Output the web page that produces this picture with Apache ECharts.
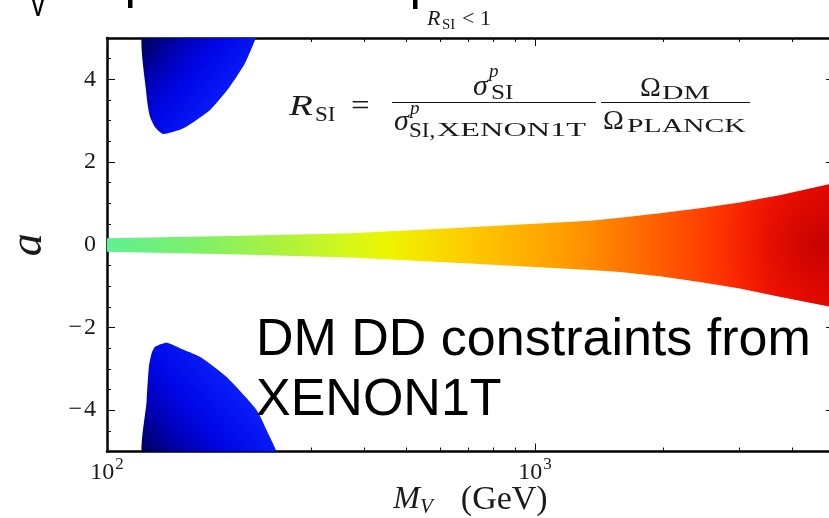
<!DOCTYPE html>
<html>
<head>
<meta charset="utf-8">
<script src="https://cdn.jsdelivr.net/npm/echarts@6/dist/echarts.min.js"></script>
<style>
  html, body { margin: 0; padding: 0; background: #fff; }
  #chart { width: 829px; height: 518px; }
</style>
</head>
<body>
<div id="chart"></div>
<script>
// Allowed band (R_SI < 1) around a = 0: mass in GeV, upper / lower edge in a
const bandMass  = [100, 194, 370, 686, 1345, 1580, 1959, 2430, 3013, 3733, 4808, 5000];
const bandUpper = [0.16, 0.21, 0.28, 0.42, 0.58, 0.65, 0.76, 0.88, 1.02, 1.20, 1.45, 1.50];
const bandLower = [-0.17, -0.23, -0.31, -0.45, -0.61, -0.66, -0.76, -0.90, -1.06, -1.26, -1.48, -1.53];

// Outline of the allowed lobe at large positive a
const upperLobeMass = [122.7, 123.8, 126.0, 129.4, 135.3, 148, 153.6, 174.1, 193.8, 210.1, 222.8, 229];
const upperLobeA    = [5.3, 3.58, 3.10, 2.85, 2.68, 2.78, 2.86, 3.26, 3.83, 4.39, 5.0, 5.3];

// Outline of the allowed lobe at large negative a
const lowerLobeMass = [122.7, 123.8, 125.3, 127.2, 129.4, 137.9, 148, 164.9, 190.4, 223.8, 238.2, 249.2, 256];
const lowerLobeA    = [-5.3, -3.76, -2.95, -2.62, -2.47, -2.37, -2.50, -2.71, -3.20, -4.0, -4.57, -5.0, -5.3];

// Axis ticks
const xMajorTicks = [100, 1000];
const xMinorTicks = [200, 300, 400, 500, 600, 700, 800, 900, 2000, 3000, 4000, 5000];
const yMajorTicks = [-4, -2, 0, 2, 4];
const yMinorTicks = [-4.5, -3.5, -3, -2.5, -1.5, -1, -0.5, 0.5, 1, 1.5, 2.5, 3, 3.5, 4.5];

const SERIF = '"Liberation Serif", "DejaVu Serif", serif';
const SANS = '"Liberation Sans", Arial, sans-serif';
const INK = '#1a1a1a';
const X_MIN = 100, X_MAX = 5000, Y_MIN = -5, Y_MAX = 5;

function xAxis(position, ticks, len, withLine, withLabels) {
  return {
    type: 'log', logBase: 10, min: X_MIN, max: X_MAX, position: position,
    axisLine: { show: withLine, onZero: false, lineStyle: { color: '#000', width: 2.5 } },
    axisTick: { show: true, inside: true, length: len, customValues: ticks,
                lineStyle: { color: '#111', width: 1 } },
    axisLabel: withLabels ? {
      show: true, customValues: ticks, margin: 5, color: INK,
      formatter: v => '{b|10}{s|' + Math.round(Math.log10(v)) + '}',
      rich: {
        b: { fontFamily: SERIF, fontSize: 24, color: INK, verticalAlign: 'bottom' },
        s: { fontFamily: SERIF, fontSize: 17, color: INK, verticalAlign: 'bottom', padding: [0, 0, 11, 1] }
      }
    } : { show: false },
    splitLine: { show: false }
  };
}

function yAxis(position, ticks, len, withLine, withLabels) {
  return {
    type: 'value', min: Y_MIN, max: Y_MAX, position: position,
    axisLine: { show: withLine, onZero: false, lineStyle: { color: '#000', width: 2.5 } },
    axisTick: { show: true, inside: true, length: len, customValues: ticks,
                lineStyle: { color: '#111', width: 1 } },
    axisLabel: withLabels ? {
      show: true, customValues: ticks, margin: 11, color: INK,
      fontFamily: SERIF, fontSize: 24,
      formatter: v => (v < 0 ? '\u2212\u200a' + (-v) : String(v))
    } : { show: false },
    splitLine: { show: false }
  };
}

// Closed outline of the band from its upper and lower edges
function bandRing() {
  const ring = bandMass.map((m, i) => [m, bandUpper[i]]);
  for (let i = bandMass.length - 1; i >= 0; i--) ring.push([bandMass[i], bandLower[i]]);
  return ring;
}
function lobeRing(ms, as) { return ms.map((m, i) => [m, as[i]]); }

function regionSeries(ring, smooth, fillFor) {
  return {
    type: 'custom', coordinateSystem: 'cartesian2d', xAxisIndex: 0, yAxisIndex: 0,
    clip: true, silent: true, data: [[1000, 0]],
    renderItem: (params, api) => ({
      type: 'polygon',
      shape: { points: ring.map(p => api.coord(p)), smooth: smooth },
      style: { fill: fillFor(api), stroke: null }
    })
  };
}

const bandStops = [
  [0.00, '#60f094'], [0.12, '#7cf06a'], [0.25, '#b0f23a'], [0.33, '#d4f81a'],
  [0.39, '#eef400'], [0.45, '#f8dc00'], [0.52, '#ffc200'], [0.62, '#ffa000'],
  [0.67, '#ff8a00'], [0.75, '#ff6200'], [0.83, '#ff3a00'], [0.91, '#f81800'],
  [1.00, '#e80800']
].map(([offset, color]) => ({ offset, color }));

function blueFill(api, from, to) {
  const p0 = api.coord(from), p1 = api.coord(to);
  return new echarts.graphic.LinearGradient(p0[0], p0[1], p1[0], p1[1], [
    { offset: 0, color: '#000068' }, { offset: 0.22, color: '#0000b0' },
    { offset: 0.5, color: '#0006e6' }, { offset: 1, color: '#0c24ff' }
  ], true);
}

// a piece of the formula: text, left x, middle y, font size, italic, horizontal stretch
function txt(s, x, y, size, italic, sx) {
  return { type: 'text', x: x, y: y, scaleX: sx || 1,
    style: { text: s, font: (italic ? 'italic ' : '') + size + 'px ' + SERIF,
             fill: INK, verticalAlign: 'middle', align: 'left' } };
}

const option = {
  animation: false,
  backgroundColor: '#fff',
  grid: { left: 107, top: 38, width: 727, height: 413.5, containLabel: false, outerBoundsMode: 'none' },
  xAxis: [
    Object.assign(xAxis('bottom', xMajorTicks, 8, true, true), {
      name: '{i|M}{s|V}{n|(GeV)}', nameLocation: 'middle', nameGap: 31, nameMoveOverlap: false,
      nameTextStyle: { rich: {
        i: { fontFamily: SERIF, fontStyle: 'italic', fontSize: 32, color: INK },
        s: { fontFamily: SERIF, fontStyle: 'italic', fontSize: 21, color: INK, padding: [14, 0, 0, 0] },
        n: { fontFamily: SERIF, fontSize: 34, color: INK, padding: [0, 0, 0, 28] }
      } }
    }),
    xAxis('bottom', xMinorTicks, 4, false, false),
    xAxis('top', xMajorTicks, 8, true, false),
    xAxis('top', xMinorTicks, 4, false, false)
  ],
  yAxis: [
    Object.assign(yAxis('left', yMajorTicks, 8, true, true), {
      name: 'a', nameLocation: 'middle', nameGap: 55, nameRotate: 90, nameMoveOverlap: false,
      nameTextStyle: { fontFamily: SERIF, fontStyle: 'italic', fontSize: 46, color: INK }
    }),
    yAxis('left', yMinorTicks, 4, false, false),
    yAxis('right', yMajorTicks, 8, true, false),
    yAxis('right', yMinorTicks, 4, false, false)
  ],
  series: [
    regionSeries(bandRing(), 0, api => {
      const p0 = api.coord([X_MIN, 0]), p1 = api.coord([X_MAX, 0]);
      return new echarts.graphic.LinearGradient(p0[0], 0, p1[0], 0, bandStops, true);
    }),
    // darker core towards heavy masses
    regionSeries(bandRing(), 0, api => {
      const c = api.coord([4600, 0]);
      return new echarts.graphic.RadialGradient(c[0], c[1], 105, [
        { offset: 0, color: 'rgba(185,0,0,0.75)' },
        { offset: 0.6, color: 'rgba(200,0,0,0.22)' },
        { offset: 1, color: 'rgba(220,0,0,0)' }
      ], true);
    }),
    regionSeries(lobeRing(upperLobeMass, upperLobeA), 0.2, api => blueFill(api, [126, 5], [200, 3.3])),
    regionSeries(lobeRing(lowerLobeMass, lowerLobeA), 0.2, api => blueFill(api, [126, -5], [205, -3.1]))
  ],
  graphic: [
    // lower edge of the slide heading above the plot
    { type: 'text', x: 38, y: 24, scaleX: 0.75, style: { text: 'V', font: '36px ' + SANS, fill: '#000', align: 'center', verticalAlign: 'bottom' } },
    { type: 'rect', shape: { x: 128, y: 0, width: 4.5, height: 8 }, style: { fill: '#000' } },
    { type: 'rect', shape: { x: 413, y: 0, width: 4.5, height: 9 }, style: { fill: '#000' } },

    // panel title: R_SI < 1
    txt('R', 427, 19, 22, true),
    txt('SI', 442, 25, 15, false),
    txt('< 1', 462, 19, 22, false),

    // R_SI definition
    txt('R', 289, 107, 30, true, 1.3),
    txt('SI', 315, 115, 21, false, 1.1),
    txt('=', 351, 107, 30, false, 1.1),
    { type: 'line', shape: { x1: 392, y1: 102.5, x2: 596, y2: 102.5 }, style: { stroke: INK, lineWidth: 1.2 } },
    txt('\u03c3', 473, 87, 30, true),
    txt('p', 489, 72, 19, true),
    txt('SI', 491, 93, 21, false, 1.2),
    txt('\u03c3', 394, 122, 30, true),
    txt('p', 410, 109, 19, true),
    txt('SI,', 409, 131, 21, false, 1.1),
    txt('XENON1T', 437, 131, 19, false, 1.7),
    { type: 'line', shape: { x1: 601, y1: 102.5, x2: 750, y2: 102.5 }, style: { stroke: INK, lineWidth: 1.2 } },
    txt('\u03a9', 640, 89, 28, false),
    txt('DM', 662, 94, 18, false, 1.65),
    txt('\u03a9', 603, 122, 28, false),
    txt('PLANCK', 627, 127, 18, false, 1.65),

    // annotation
    { type: 'text', x: 256, y: 311, z: 100, style: {
      text: 'DM DD constraints from\nXENON1T', font: '52px ' + SANS, lineHeight: 60,
      fill: '#000', verticalAlign: 'top' } }
  ]
};

echarts.init(document.getElementById('chart'), null, { renderer: 'canvas' }).setOption(option);
</script>
</body>
</html>
